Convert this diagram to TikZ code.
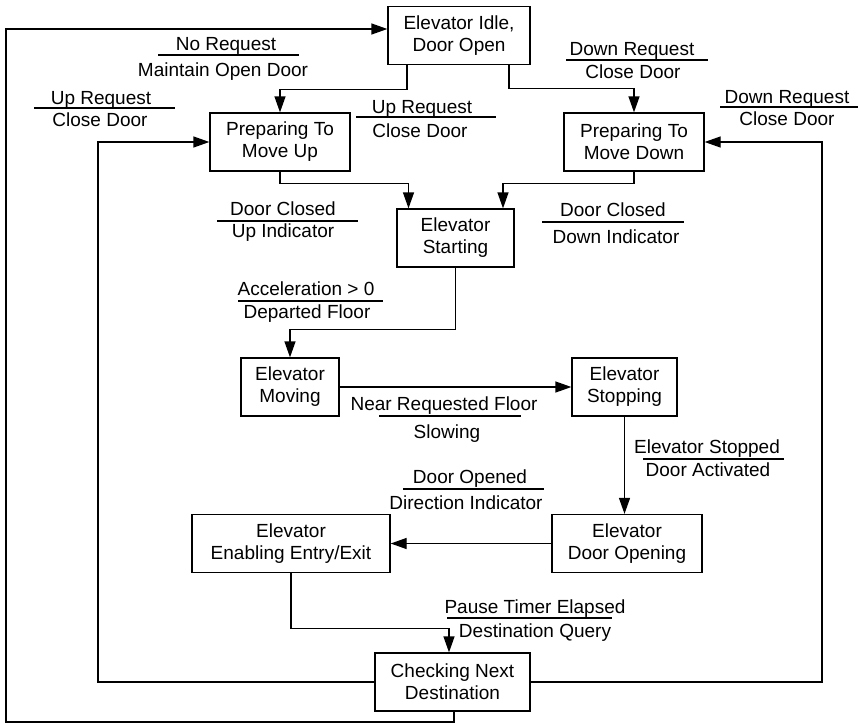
\documentclass[tikz,border=0pt]{standalone}
\usepackage{fontspec}
\setmainfont{Liberation Sans}
\usetikzlibrary{arrows.meta}
\begin{document}
\begin{tikzpicture}[x=1pt,y=-1pt,
  every node/.style={font=\fontsize{19}{22}\selectfont},
  state/.style={draw, line width=1.3pt, align=center, inner sep=0pt, minimum height=58pt},
  link/.style={line width=1.3pt, -{Triangle[length=16pt,width=11pt]}},
  guard/.style={anchor=base, inner sep=0pt},
  bar/.style={line width=1.2pt}]
\useasboundingbox (0,0) rectangle (858,723);

% states
\node[state, minimum width=142pt] (idle)     at (459,35.5)  {Elevator Idle,\\Door Open};
\node[state, minimum width=140pt] (prepup)   at (280,142)   {Preparing To\\Move Up};
\node[state, minimum width=140pt] (prepdown) at (634,142)   {Preparing To\\Move Down};
\node[state, minimum width=117pt] (starting) at (455.5,238) {Elevator\\Starting};
\node[state, minimum width=98pt]  (moving)   at (290,387)   {Elevator\\Moving};
\node[state, minimum width=105pt] (stopping) at (624.5,387) {Elevator\\Stopping};
\node[state, minimum width=198pt] (enabling) at (291,543.5) {Elevator\\Enabling Entry/Exit};
\node[state, minimum width=150pt] (dooropen) at (627,543.5) {Elevator\\Door Opening};
\node[state, minimum width=155pt] (checking) at (452.5,682) {Checking Next\\Destination};

% loop turning points
\coordinate (outerL) at (6,722);
\coordinate (loopL) at (98,0);
\coordinate (loopR) at (822,0);

% transitions
\draw[link] ([xshift=-52pt]idle.south) -- ++(0,24) -| (prepup.north);
\draw[link] ([xshift=50pt]idle.south) -- ++(0,23) -| (prepdown.north);
\draw[link] (prepup.south) -- ++(0,12) -| ([xshift=-47pt]starting.north);
\draw[link] (prepdown.south) -- ++(0,12) -| ([xshift=47.5pt]starting.north);
\draw[link] (starting.south) -- ++(0,62) -| (moving.north);
\draw[link] (moving.east) -- (stopping.west);
\draw[link] (stopping.south) -- (stopping.south |- dooropen.north);
\draw[link] (dooropen.west) -- (enabling.east);
\draw[link] (enabling.south) -- ++(0,55) -| ([xshift=-3.5pt]checking.north);
\draw[link] ([xshift=1.5pt]checking.south) |- (outerL) |- ([yshift=6.5pt]idle.west);
\draw[link] (checking.west) -- (checking.west -| loopL) |- (prepup.west);
\draw[link] (checking.east) -- (checking.east -| loopR) |- (prepdown.east);

% guards / actions
\node[guard] (g1t) at (226,50) {No Request};
\draw[bar] (158,55) -- (299,55);
\node[guard] (g1b) at (223,76) {Maintain Open Door};

\node[guard] (g2t) at (101,104) {Up Request};
\draw[bar] (34,108) -- (175,108);
\node[guard] (g2b) at (100,126) {Close Door};

\node[guard] (g3t) at (422,113) {Up Request};
\draw[bar] (356,117) -- (496,117);
\node[guard] (g3b) at (420,137) {Close Door};

\node[guard] (g4t) at (632,55) {Down Request};
\draw[bar] (566,60) -- (708,60);
\node[guard] (g4b) at (633,78) {Close Door};

\node[guard] (g5t) at (787,103) {Down Request};
\draw[bar] (720,107) -- (858,107);
\node[guard] (g5b) at (787,125) {Close Door};

\node[guard] (g6t) at (283,215) {Door Closed};
\draw[bar] (217,221) -- (358,221);
\node[guard] (g6b) at (283,237) {Up Indicator};

\node[guard] (g7t) at (613,216) {Door Closed};
\draw[bar] (542,222) -- (684,222);
\node[guard] (g7b) at (616,243) {Down Indicator};

\node[guard] (g8t) at (306,295) {Acceleration > 0};
\draw[bar] (238,301) -- (383,301);
\node[guard] (g8b) at (307,318) {Departed Floor};

\node[guard] (g9t) at (444,410) {Near Requested Floor};
\draw[bar] (379,416) -- (521,416);
\node[guard] (g9b) at (447,438) {Slowing};

\node[guard] (g10t) at (707,453) {Elevator Stopped};
\draw[bar] (643,459) -- (784,459);
\node[guard] (g10b) at (708,476) {Door Activated};

\node[guard] (g11t) at (470,483) {Door Opened};
\draw[bar] (403,489) -- (544,489);
\node[guard] (g11b) at (466,509) {Direction Indicator};

\node[guard] (g12t) at (535,613) {Pause Timer Elapsed};
\draw[bar] (447,618) -- (612,618);
\node[guard] (g12b) at (535,637) {Destination Query};
\end{tikzpicture}
\end{document}
